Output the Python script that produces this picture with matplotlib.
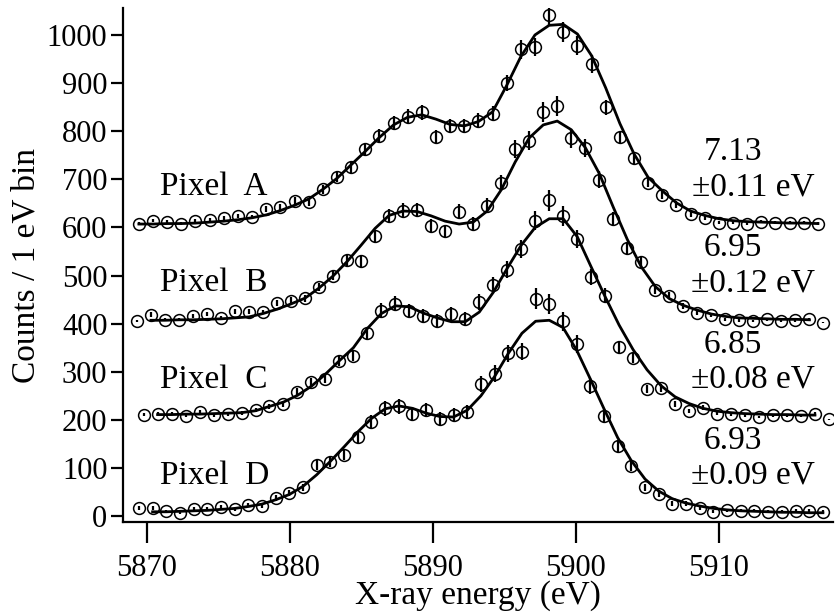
import numpy as np
import matplotlib
matplotlib.use("Agg")
import matplotlib.pyplot as plt

plt.rcParams["font.family"] = ["Liberation Serif", "DejaVu Serif"]

# Counts per 1 eV bin (each pixel shifted by its offset)
OFFSETS = {"A": 600, "B": 400, "C": 200, "D": 0}

# first / last bin centre (eV) of each pixel spectrum
E_RANGE = {
    "A": (5869.43, 5916.92),
    "B": (5869.29, 5917.31),
    "C": (5869.76, 5917.69),
    "D": (5869.43, 5917.27),
}

A_counts = [608, 614, 612, 608, 614, 615, 619, 624, 622, 638,
            643, 655, 652, 679, 704, 725, 762, 790, 817, 830,
            839, 788, 810, 811, 822, 836, 900, 970, 975, 1041,
            1006, 978, 939, 850, 787, 744, 693, 667, 647, 627,
            619, 610, 610, 608, 612, 610, 610, 610, 608]
A_fit = [607, 607, 608, 608, 609, 611, 613, 616, 620, 626,
         635, 646, 659, 679, 702, 730, 758, 787, 813, 829,
         834, 825, 814, 811, 820, 840, 895, 955, 1000, 1020,
         1022, 1002, 957, 890, 816, 753, 704, 676, 651, 634,
         625, 618, 614, 612, 611, 610, 609, 609, 608]

B_counts = [406, 419, 408, 408, 416, 420, 412, 426, 425, 424,
            443, 448, 453, 476, 500, 532, 530, 582, 624, 635,
            636, 603, 592, 633, 607, 645, 692, 763, 780, 840,
            852, 785, 765, 699, 618, 558, 528, 470, 458, 436,
            422, 418, 409, 407, 406, 409, 406, 407, 409, 402]
B_fit = [np.nan, 407, 407, 408, 408, 409, 410, 412, 414, 421,
         430, 441, 453, 474, 499, 529, 563, 598, 625, 634,
         633, 624, 613, 607, 611, 634, 678, 736, 786, 813,
         821, 803, 766, 712, 642, 575, 518, 477, 452, 438,
         428, 420, 415, 412, 411, 410, 409, 409, 408, np.nan]

C_counts = [211, 213, 213, 209, 216, 210, 212, 215, 220, 228,
            233, 258, 279, 285, 322, 333, 380, 427, 441, 426,
            416, 406, 420, 410, 445, 480, 512, 555, 614, 656,
            624, 576, 497, 458, 352, 329, 264, 267, 233, 219,
            225, 213, 212, 210, 206, 210, 210, 208, 212, 201]
C_fit = [np.nan, 211, 211, 212, 212, 213, 214, 215, 219, 228,
         237, 251, 270, 295, 323, 350, 390, 421, 437, 435,
         422, 412, 404, 404, 424, 465, 515, 563, 600, 618,
         618, 581, 518, 456, 397, 346, 304, 271, 248, 234,
         224, 218, 215, 213, 212, 211, 211, 210, 210, np.nan]

D_counts = [17, 17, 10, 7, 15, 15, 18, 15, 23, 22,
            38, 48, 60, 106, 113, 128, 164, 196, 224, 228,
            212, 220, 202, 210, 217, 275, 296, 338, 342, 452,
            441, 405, 357, 271, 209, 146, 105, 60, 47, 26,
            26, 16, 9, 12, 11, 11, 9, 9, 11, 11,
            9]
D_fit = [np.nan, 9, 9, 10, 11, 12, 14, 16, 20, 25,
         34, 45, 62, 86, 114, 144, 175, 203, 223, 229,
         224, 214, 207, 206, 220, 250, 290, 338, 380, 405,
         407, 392, 345, 285, 223, 163, 115, 77, 52, 36,
         27, 21, 16, 13, 11, 10, 9, 8, 8, 7,
         7]

# FWHM from the fits
FWHM = {"A": "7.13", "B": "6.95", "C": "6.85", "D": "6.93"}
FWHM_ERR = {"A": "0.11", "B": "0.12", "C": "0.08", "D": "0.09"}

SERIES = [("A", A_counts, A_fit), ("B", B_counts, B_fit),
          ("C", C_counts, C_fit), ("D", D_counts, D_fit)]

FS = 24  # annotation / label size


fig = plt.figure(figsize=(8.35, 6.15), dpi=100)
ax = fig.add_axes([0.147, 0.151, 0.851, 0.836])

for name, counts, fit in SERIES:
    counts = np.array(counts, dtype=float)
    e0, e1 = E_RANGE[name]
    energy = np.linspace(e0, e1, len(counts))
    # Poisson errors on the raw counts
    err = np.sqrt(np.clip(counts - OFFSETS[name], 1, None))

    ax.errorbar(energy, counts, yerr=err, fmt="o", ms=8.5, mfc="none",
                mec="black", mew=1.1, ecolor="black", elinewidth=1.6,
                capsize=0, zorder=2)
    ax.plot(energy, fit, color="black", lw=2.0, zorder=3)

    off = OFFSETS[name]
    ax.text(5870.9, off + 84, f"Pixel  {name}", fontsize=FS,
            ha="left", va="center")
    ax.text(5911.0, off + 157, FWHM[name], fontsize=FS,
            ha="center", va="center")
    ax.text(5912.4, off + 84, f"\u00b1{FWHM_ERR[name]} eV", fontsize=FS,
            ha="center", va="center")

ax.set_xlim(5868.3, 5918.0)
ax.set_ylim(-12.5, 1056)
ax.set_xticks([5870, 5880, 5890, 5900, 5910])
ax.set_yticks(np.arange(0, 1001, 100))

ax.spines["top"].set_visible(False)
ax.spines["right"].set_visible(False)
for s in ["left", "bottom"]:
    ax.spines[s].set_linewidth(1.6)

ax.tick_params(axis="x", direction="out", length=15, width=1.6,
               labelsize=22, pad=8)
ax.tick_params(axis="y", direction="out", length=9, width=1.6,
               labelsize=22, pad=2)

ax.set_xlabel("X-ray energy (eV)", fontsize=FS, labelpad=-2)
ax.set_ylabel("Counts / 1 eV bin", fontsize=FS, labelpad=4)

fig.savefig("out.png", dpi=100)
